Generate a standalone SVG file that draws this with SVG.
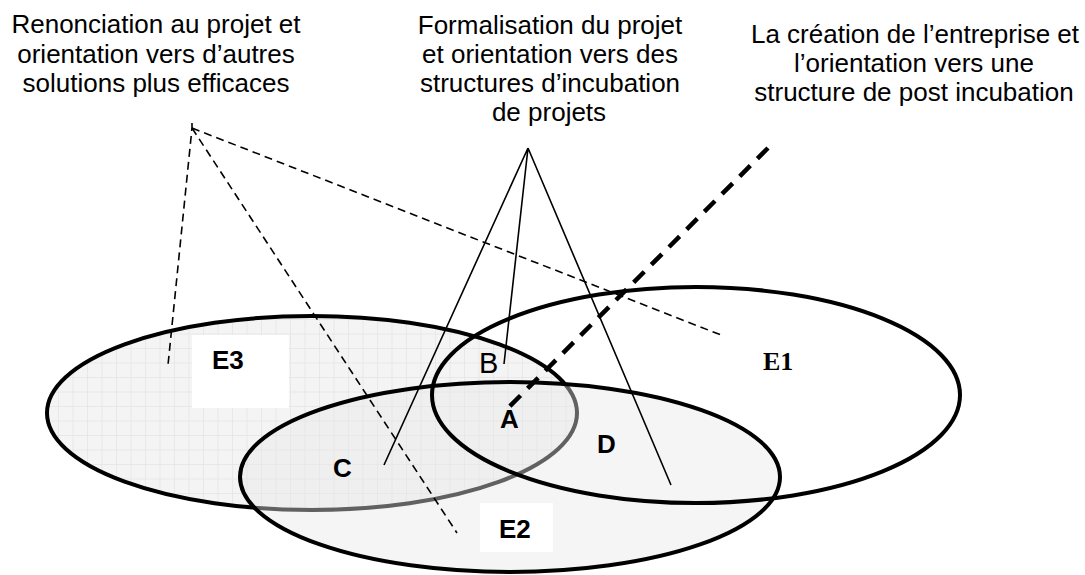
<svg xmlns="http://www.w3.org/2000/svg" width="1085" height="575" viewBox="0 0 1085 575">
<style>
.t{font-family:"Liberation Sans",Arial,sans-serif;font-size:26px;fill:#000;text-anchor:middle}
.lb{font-family:"Liberation Sans",Arial,sans-serif;font-size:26px;font-weight:bold;fill:#000}
.ell{stroke:#000;stroke-width:4}
.thin{stroke:#000;stroke-width:1.6;fill:none}
.dash{stroke:#000;stroke-width:1.6;fill:none;stroke-dasharray:8 5}
.bigdash{stroke:#000;stroke-width:4.5;fill:none;stroke-dasharray:15 10}
</style>
<defs>
<pattern id="grid" width="14.5" height="14.5" patternUnits="userSpaceOnUse">
<rect width="14.5" height="14.5" fill="#f4f4f4"/>
<path d="M0 0.4H14.5M0.4 0V14.5" stroke="#e4e4e4" stroke-width="0.8"/>
</pattern>
</defs>
<rect width="1085" height="575" fill="#fff"/>
<g id="titles">
<text class="t" x="156" y="33">Renonciation au projet et</text>
<text class="t" x="156" y="63">orientation vers d’autres</text>
<text class="t" x="156" y="92">solutions plus efficaces</text>
<text class="t" x="550" y="34">Formalisation du projet</text>
<text class="t" x="550" y="63">et orientation vers des</text>
<text class="t" x="550" y="92">structures d’incubation</text>
<text class="t" x="549" y="121">de projets</text>
<text class="t" x="915" y="43">La création de l’entreprise et</text>
<text class="t" x="914" y="72">l’orientation vers une</text>
<text class="t" x="914" y="101">structure de post incubation</text>
</g>
<g id="E3">
<ellipse class="ell" cx="312" cy="413" rx="265" ry="97" fill="url(#grid)"/>
<rect x="192" y="335" width="97" height="73" fill="#fff"/>
<text class="lb" x="212" y="369" font-size="25">E3</text>
</g>
<g id="E2">
<ellipse class="ell" cx="510" cy="477" rx="270" ry="95" fill="#e6e6e6" fill-opacity="0.42"/>
<rect x="480" y="503" width="73" height="49" fill="#fff"/>
<text class="lb" x="499" y="538" font-size="25">E2</text>
</g>
<g id="E1">
<ellipse class="ell" cx="696" cy="395" rx="264" ry="108" fill="none"/>
<text x="763" y="370" font-family="'Liberation Serif','Times New Roman',serif" font-size="26" font-weight="bold">E1</text>
</g>
<g id="regions">
<text class="lb" x="333" y="477" font-size="27">C</text>
<text class="lb" x="500" y="428" font-size="27">A</text>
<text class="lb" x="597" y="453" font-size="27">D</text>
<text x="479" y="373" font-family="'Liberation Sans',Arial,sans-serif" font-size="29">B</text>
</g>
<g id="connectors">
<path class="dash" d="M192 123L192 128L168 365"/>
<path class="dash" d="M192 128L457 533"/>
<path class="dash" d="M192 128L721 335"/>
<path class="thin" d="M528 148L384 465M528 148L504 364M528 148L671 485"/>
<path class="bigdash" d="M768 148L505 411"/>
</g>
</svg>
